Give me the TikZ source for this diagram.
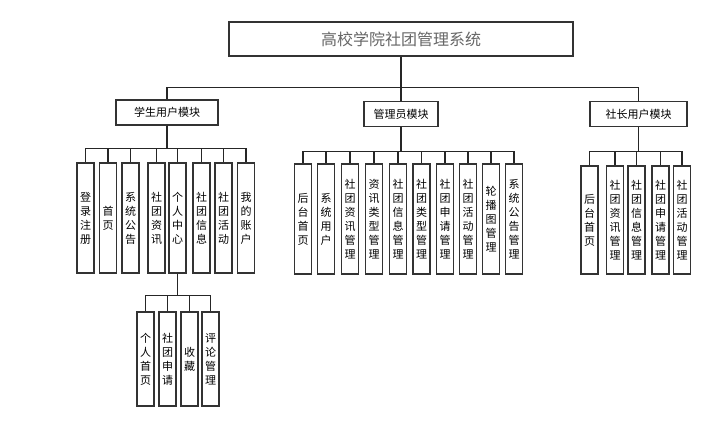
\documentclass[tikz,border=0pt]{standalone}
\usepackage{fontspec}
\setmainfont{Noto Sans CJK SC}
\usetikzlibrary{positioning}

\begin{document}
\begin{tikzpicture}[x=1pt, y=-1pt,
    root/.style={draw=black!80, line width=1.2pt, minimum width=344pt, minimum height=34pt, font=\fontsize{16}{18}\selectfont, text=black!60},
    module/.style={draw=black!80, line width=1.2pt, minimum height=25pt, inner sep=0pt, font=\fontsize{11}{13}\selectfont},
    leaf/.style={draw=black!80, line width=1.2pt, minimum width=17pt, text width=12pt, inner sep=0pt, align=center, font=\fontsize{11}{14}\selectfont},
    link/.style={draw=black!85, line width=1.2pt}
]
\useasboundingbox (0,0) rectangle (724,424);

% top level
\node[root] (sys) at (401,39) {高校学院社团管理系统};
\node[module, minimum width=102pt] (stu) at (167,112.5) {学生用户模块};
\node[module, minimum width=74pt] (adm) at (401,114) {管理员模块};
\node[module, minimum width=97pt] (pre) at (638.5,114) {社长用户模块};
\foreach \m in {stu,adm,pre}
    \draw[link] (sys.south) -- ++(0,31) -| (\m.north);

% student module
\foreach \x/\t [count=\i] in {85.5/登\\录\\注\\册, 108/首\\页, 130.5/系\\统\\公\\告, 156.5/社\\团\\资\\讯,
        177.5/个\\人\\中\\心, 201.5/社\\团\\信\\息, 223.5/社\\团\\活\\动, 246/我\\的\\账\\户}
    \node[leaf, minimum height=110pt] (s\i) at (\x,218) {\t};
\foreach \i in {1,...,8}
    \draw[link] (stu.south) -- ++(0,23) -| (s\i.north);

% personal centre
\foreach \x/\t [count=\i] in {145.5/个\\人\\首\\页, 167.5/社\\团\\申\\请, 189.5/收\\藏, 210.5/评\\论\\管\\理}
    \node[leaf, minimum height=94pt] (p\i) at (\x,359) {\t};
\foreach \i in {1,...,4}
    \draw[link] (s5.south) -- ++(0,22) -| (p\i.north);

% admin module
\foreach \x/\t [count=\i] in {303/后\\台\\首\\页, 326/系\\统\\用\\户, 350/社\\团\\资\\讯\\管\\理,
        374/资\\讯\\类\\型\\管\\理, 398/社\\团\\信\\息\\管\\理, 421.5/社\\团\\类\\型\\管\\理,
        445/社\\团\\申\\请\\管\\理, 468/社\\团\\活\\动\\管\\理, 491/轮\\播\\图\\管\\理, 514/系\\统\\公\\告\\管\\理}
    \node[leaf, minimum height=110pt] (a\i) at (\x,219) {\t};
\foreach \i in {1,...,10}
    \draw[link] (adm.south) -- ++(0,24) -| (a\i.north);

% president module
\foreach \x/\t [count=\i] in {589.5/后\\台\\首\\页, 615/社\\团\\资\\讯\\管\\理, 636.5/社\\团\\信\\息\\管\\理,
        660.5/社\\团\\申\\请\\管\\理, 682/社\\团\\活\\动\\管\\理}
    \node[leaf, minimum height=108pt] (c\i) at (\x,220) {\t};
\foreach \i in {1,...,5}
    \draw[link] (pre.south) -- ++(0,24) -| (c\i.north);
\end{tikzpicture}
\end{document}
